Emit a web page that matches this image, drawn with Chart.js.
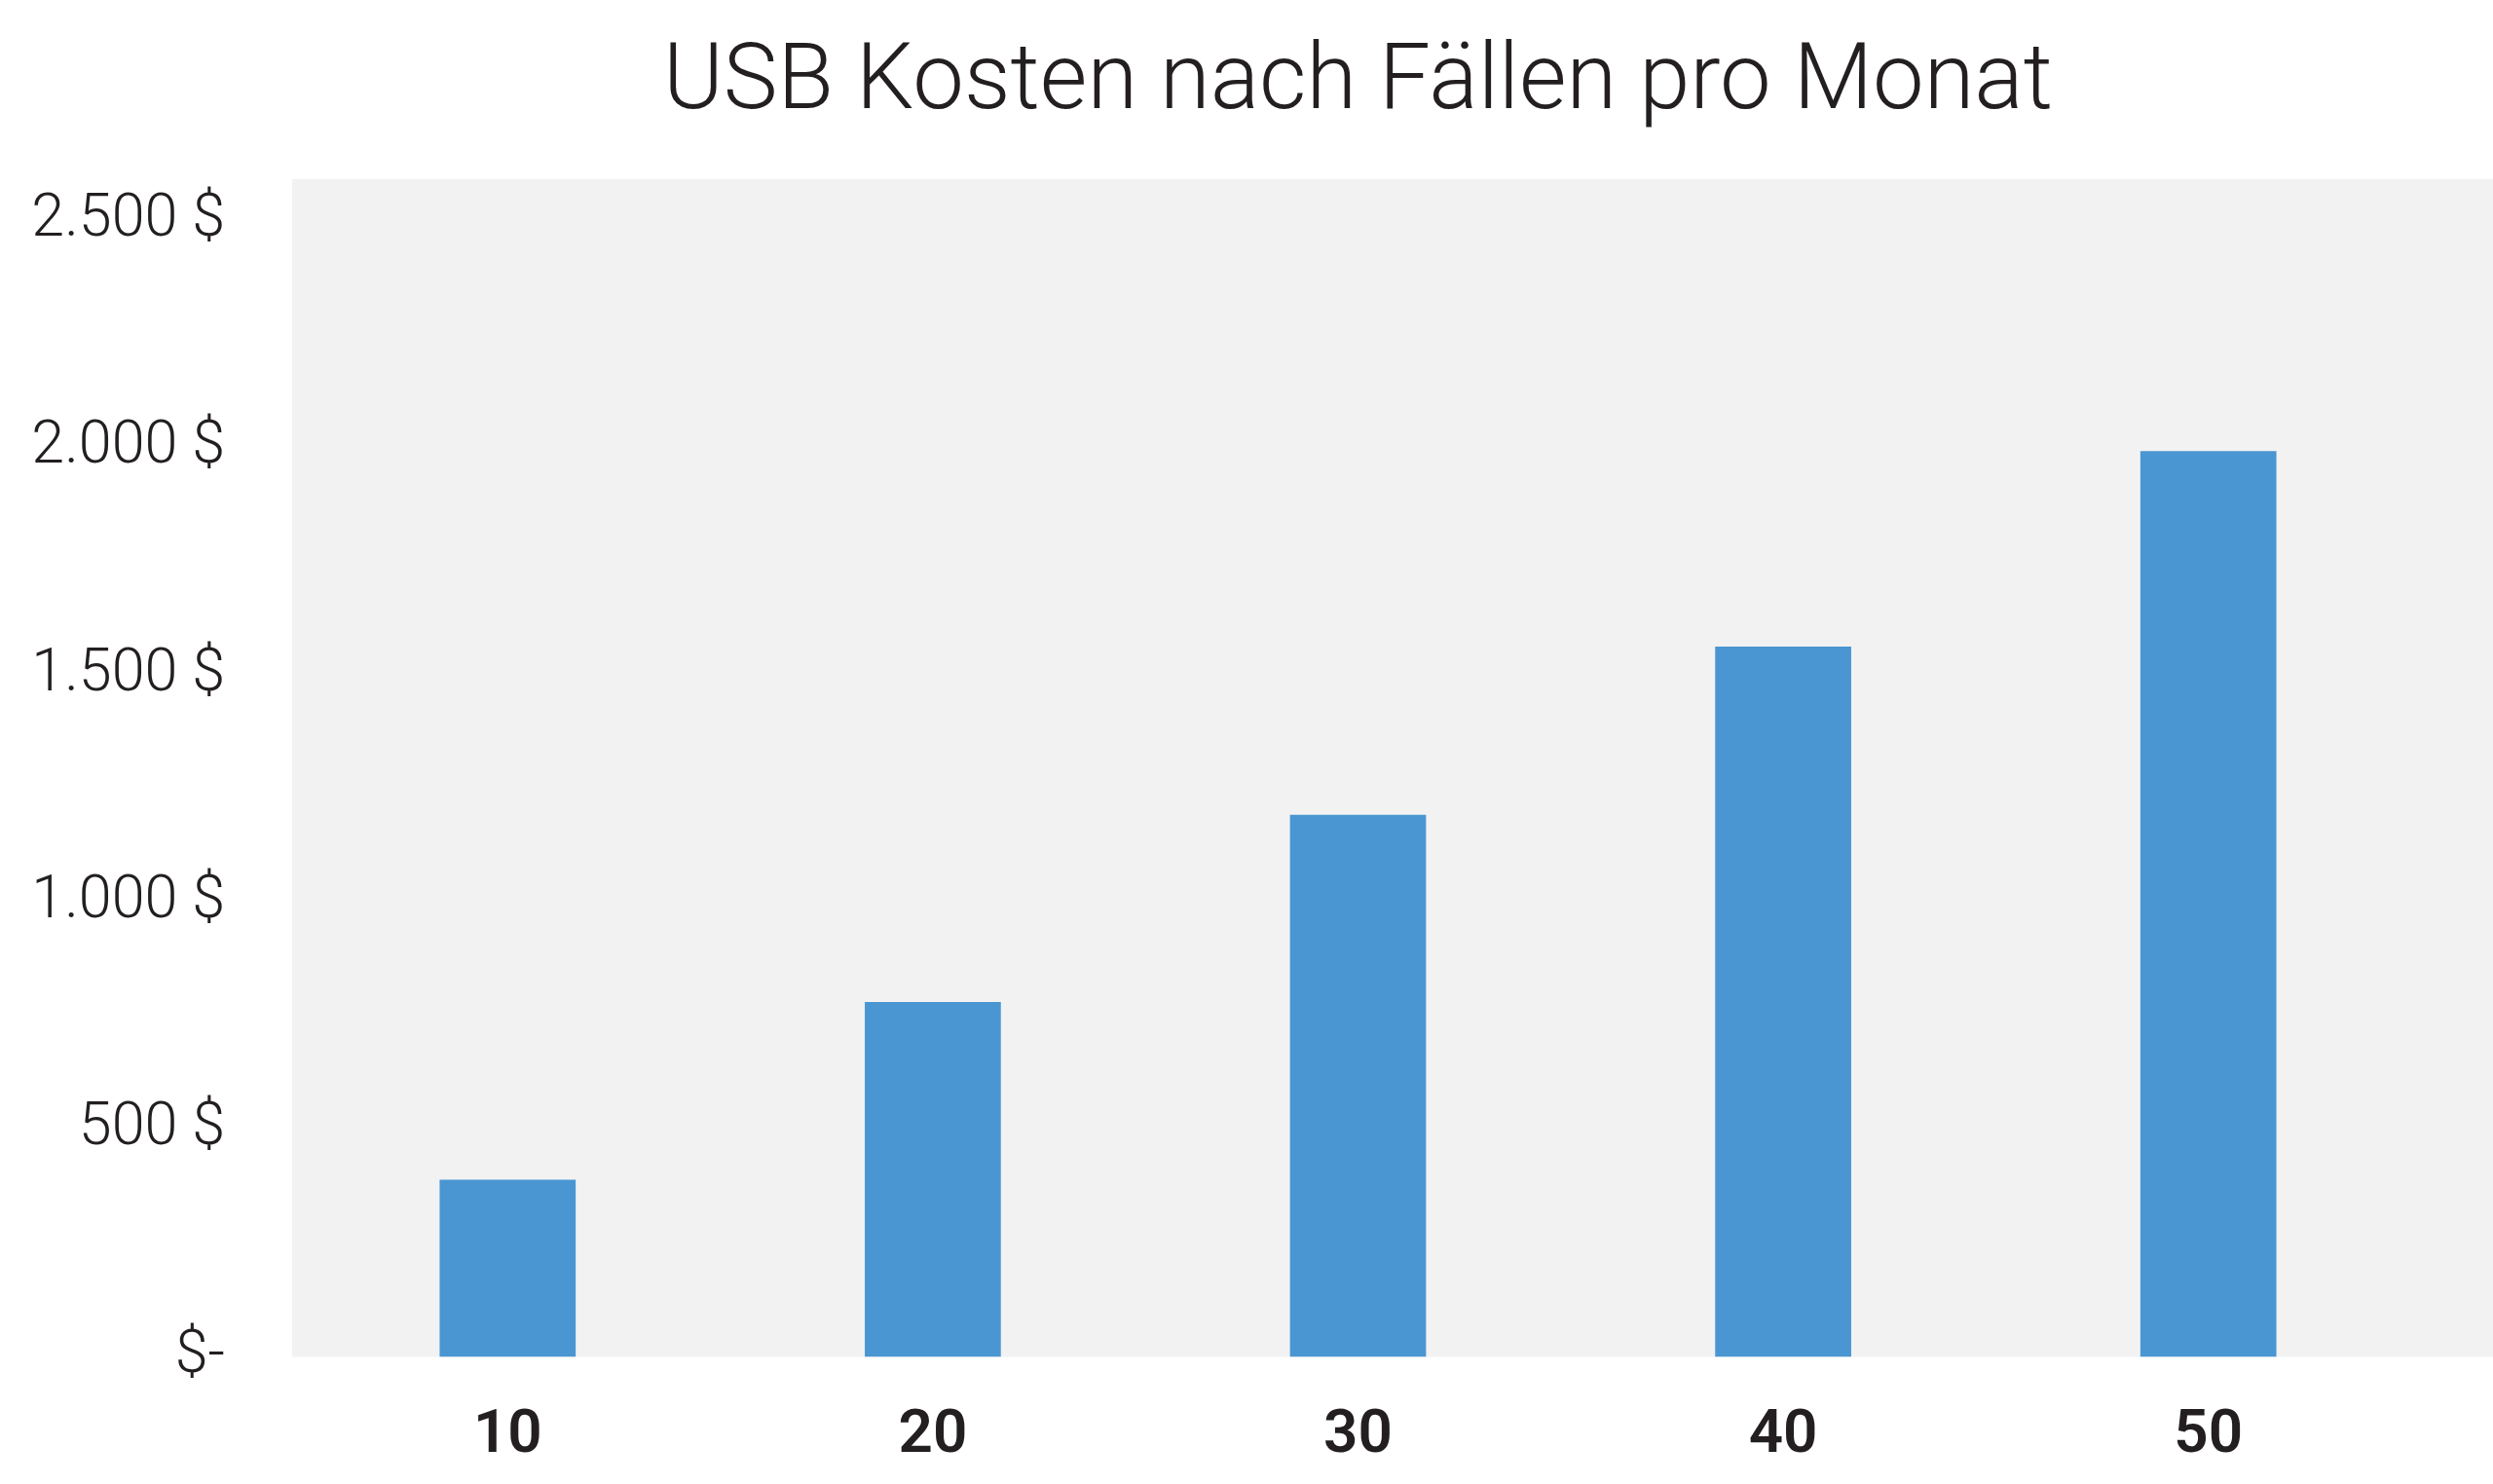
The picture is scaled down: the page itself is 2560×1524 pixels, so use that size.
<!DOCTYPE html>
<html>
<head>
<meta charset="utf-8">
<title>USB Kosten nach Fällen pro Monat</title>
<script src="https://cdn.jsdelivr.net/npm/chart.js@4.4.1/dist/chart.umd.min.js"></script>
<style>
  html, body { margin: 0; padding: 0; background: #ffffff; }
  #wrap { width: 2560px; height: 1524px; position: relative; }
</style>
</head>
<body>
<div id="wrap"><canvas id="chart"></canvas></div>
<script>
// ── Data ────────────────────────────────────────────────────────────────
const cases = ["10", "20", "30", "40", "50"];
const costs = [390, 781, 1193, 1563, 1993];
const yTicks = [0, 500, 1000, 1500, 2000, 2500];

const TEXT = "#231f20";
const BAR = "#4a96d2";
const PLOT_BG = "#f2f2f2";

// grey plot background, runs on to the right edge of the canvas
const plotBg = {
  id: "plotBg",
  beforeDraw(chart) {
    const { ctx, chartArea, width } = chart;
    ctx.save();
    ctx.fillStyle = PLOT_BG;
    ctx.fillRect(chartArea.left - 3, chartArea.top, width - chartArea.left + 3, chartArea.bottom - chartArea.top);
    ctx.restore();
  },
};

function fmtCost(v) {
  if (v === 0) return "$-";
  return v.toLocaleString("de-DE") + " $";
}

new Chart(document.getElementById("chart"), {
  type: "bar",
  data: {
    labels: cases,
    datasets: [
      {
        label: "Kosten",
        data: costs,
        backgroundColor: BAR,
        borderWidth: 0,
        barPercentage: 0.32,
        categoryPercentage: 1,
      },
    ],
  },
  options: {
    responsive: true,
    maintainAspectRatio: false,
    animation: false,
    layout: { padding: { left: 0, right: 74, top: 0, bottom: 0 } },
    plugins: {
      legend: { display: false },
      tooltip: { enabled: false },
      title: {
        display: true,
        text: "USB Kosten nach Fällen pro Monat",
        fullSize: false,
        color: TEXT,
        font: { family: "Roboto", size: 94, weight: 300 },
        padding: { top: 31, bottom: 40 },
      },
    },
    scales: {
      x: {
        grid: { display: false, drawTicks: false },
        border: { display: false },
        ticks: {
          color: TEXT,
          font: { family: "Roboto", size: 62, weight: 600 },
          padding: 45,
        },
        afterFit: (s) => { s.height = 130.5; },
      },
      y: {
        min: 0,
        max: 2592,
        grid: { display: false, drawTicks: false },
        border: { display: false },
        afterBuildTicks: (s) => { s.ticks = yTicks.map((v) => ({ value: v })); },
        ticks: {
          color: TEXT,
          font: { family: "Roboto", size: 61, weight: 300 },
          padding: 72,
          callback: (v) => fmtCost(v),
        },
        afterFit: (s) => { s.width = 303; },
      },
    },
  },
  plugins: [plotBg],
});
</script>
</body>
</html>
